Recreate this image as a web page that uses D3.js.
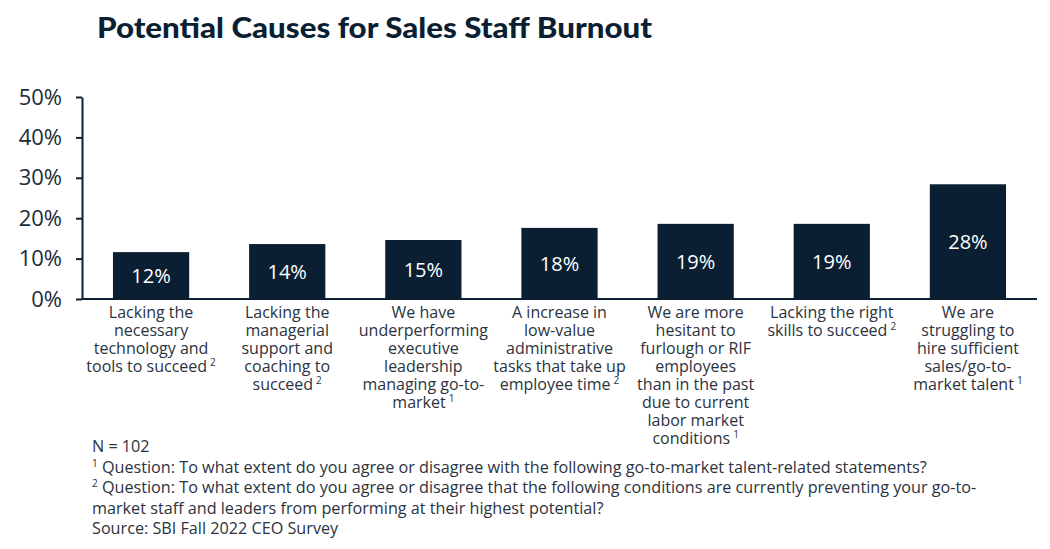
<!DOCTYPE html>
<html>
<head>
<meta charset="utf-8">
<script src="https://cdn.jsdelivr.net/npm/d3@7"></script>
<style>
  body { margin: 0; background: #fff; }
  svg { display: block; }
</style>
</head>
<body>
<div id="chart"></div>
<script>
// chart data
const title = "Potential Causes for Sales Staff Burnout";
const categories = [
  "Lacking the necessary technology and tools to succeed",
  "Lacking the managerial support and coaching to succeed",
  "We have underperforming executive leadership managing go-to-market",
  "A increase in low-value administrative tasks that take up employee time",
  "We are more hesitant to furlough or RIF employees than in the past due to current labor market conditions",
  "Lacking the right skills to succeed",
  "We are struggling to hire sufficient sales/go-to-market talent"
];
// wrapped lines as shown under each bar
const categoryLines = [
  ["Lacking the", "necessary", "technology and", "tools to succeed"],
  ["Lacking the", "managerial", "support and", "coaching to", "succeed"],
  ["We have", "underperforming", "executive", "leadership", "managing go-to-", "market"],
  ["A increase in", "low-value", "administrative", "tasks that take up", "employee time"],
  ["We are more", "hesitant to", "furlough or RIF", "employees", "than in the past", "due to current", "labor market", "conditions"],
  ["Lacking the right", "skills to succeed"],
  ["We are", "struggling to", "hire sufficient", "sales/go-to-", "market talent"]
];
const footnoteRefs = ["2", "2", "1", "2", "1", "2", "1"];
const values = [0.116, 0.136, 0.146, 0.176, 0.186, 0.186, 0.284];
const yTicks = [0, 0.1, 0.2, 0.3, 0.4, 0.5];
const notes = [
  ["", "N = 102"],
  ["1", " Question: To what extent do you agree or disagree with the following go-to-market talent-related statements?"],
  ["2", " Question: To what extent do you agree or disagree that the following conditions are currently preventing your go-to-"],
  ["", "market staff and leaders from performing at their highest potential?"],
  ["", "Source: SBI Fall 2022 CEO Survey"]
];

const navy = "#0b1f33";
const textCol = "#2b3340";
const font = "'Open Sans', Lato, sans-serif";

const svg = d3.select("#chart").append("svg")
    .attr("width", 1050)
    .attr("height", 549);

svg.append("text")
    .attr("x", 97)
    .attr("y", 38)
    .attr("font-family", "Lato, 'Open Sans', sans-serif")
    .attr("font-weight", 900)
    .attr("font-size", 29)
    .attr("textLength", 555)
    .attr("lengthAdjust", "spacingAndGlyphs")
    .attr("fill", navy)
    .text(title);

let x = d3.scaleBand().domain(categories).range([83, 1036])
    .paddingInner(0.44).paddingOuter(0.22);
let y = d3.scaleLinear().domain([0, 0.5]).range([299, 97]);

// y axis
let yAxis = svg.append("g")
    .attr("transform", "translate(82,0)")
    .call(d3.axisLeft(y).tickValues(yTicks).tickFormat(d3.format(".0%"))
      .tickSize(6).tickSizeOuter(0).tickPadding(14));
yAxis.select(".domain").attr("stroke", navy).attr("stroke-width", 2);
yAxis.selectAll(".tick line").attr("stroke", navy).attr("stroke-width", 2);
yAxis.selectAll(".tick text")
    .attr("font-family", font)
    .attr("font-size", 22)
    .attr("fill", "#1e2b38");

// bars
svg.selectAll(".bar")
    .data(values)
    .enter().append("rect")
    .attr("class", "bar")
    .attr("x", (d, i) => x(categories[i]))
    .attr("y", d => y(d))
    .attr("width", x.bandwidth())
    .attr("height", d => y(0) - y(d))
    .attr("fill", navy);

svg.selectAll(".val")
    .data(values)
    .enter().append("text")
    .attr("class", "val")
    .attr("x", (d, i) => x(categories[i]) + x.bandwidth() / 2)
    .attr("y", d => (y(d) + y(0)) / 2)
    .attr("dy", "0.36em")
    .attr("text-anchor", "middle")
    .attr("font-family", font)
    .attr("font-size", 20)
    .attr("fill", "#fff")
    .text(d => Math.round(d * 100) + "%");

// x axis line
let xAxis = svg.append("g")
    .attr("transform", "translate(0," + y(0) + ")")
    .call(d3.axisBottom(x).tickSize(0).tickSizeOuter(0).tickFormat(""));
xAxis.select(".domain").attr("stroke", navy).attr("stroke-width", 2)
    .attr("d", "M82,0H1037");

// category labels
categoryLines.forEach((lines, i) => {
  let t = svg.append("text")
      .attr("text-anchor", "middle")
      .attr("font-family", font)
      .attr("font-size", 16)
      .attr("fill", textCol);
  let cx = x(categories[i]) + x.bandwidth() / 2;
  lines.forEach((ln, j) => {
    let row = t.append("tspan").attr("x", cx).attr("y", 318 + j * 18).text(ln);
    if (j === lines.length - 1) {
      row.append("tspan").attr("dx", 3).attr("dy", -6).attr("font-size", 10)
        .text(footnoteRefs[i]);
    }
  });
});

// footnotes
notes.forEach((n, i) => {
  let t = svg.append("text")
      .attr("x", 92)
      .attr("y", 452 + i * 20.5)
      .attr("font-family", font)
      .attr("font-size", 16.2)
      .attr("fill", textCol);
  if (n[0]) {
    t.append("tspan").attr("dy", -6).attr("font-size", 10).text(n[0]);
    t.append("tspan").attr("dy", 6).text(n[1]);
  } else {
    t.text(n[1]);
  }
});
</script>
</body>
</html>
